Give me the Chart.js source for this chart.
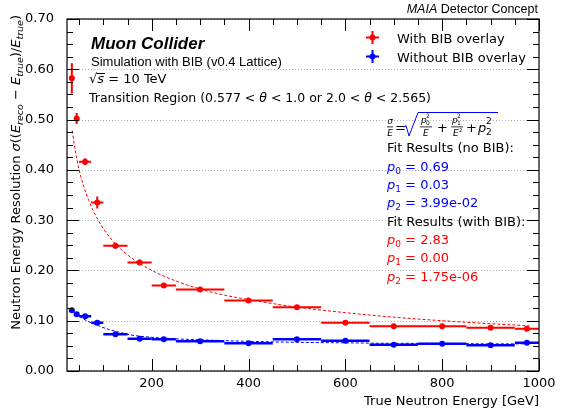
<!DOCTYPE html>
<html>
<head>
<meta charset="utf-8">
<script src="https://cdn.jsdelivr.net/npm/chart.js@4"></script>
<style>
  html, body { margin: 0; padding: 0; background: #fff; }
  #wrap { width: 562px; height: 413px; }
</style>
</head>
<body>
<div id="wrap"><canvas id="chart" width="562" height="413"></canvas></div>
<script>
// energy bins (GeV)
const binLo = [30, 40, 50, 75, 100, 150, 200, 250, 350, 450, 550, 650, 750, 850, 950];
const binHi = [40, 50, 75, 100, 150, 200, 250, 350, 450, 550, 650, 750, 850, 950, 1000];
const binCenter = [35, 45, 62.5, 87.5, 125, 175, 225, 300, 400, 500, 600, 700, 800, 900, 975];

// resolution with BIB overlay (red)
const withBib = [0.582, 0.502, 0.416, 0.335, 0.249, 0.216, 0.170, 0.162, 0.140, 0.127, 0.096, 0.089, 0.089, 0.086, 0.084];
const withBibErr = [0.030, 0.011, 0.007, 0.012, 0.006, 0.005, 0.004, 0.004, 0.004, 0.003, 0.003, 0.003, 0.003, 0.003, 0.003];

// resolution without BIB overlay (blue)
const noBib = [0.121, 0.113, 0.109, 0.096, 0.073, 0.064, 0.063, 0.059, 0.055, 0.063, 0.060, 0.052, 0.054, 0.051, 0.056];
const noBibErr = [0.004, 0.003, 0.003, 0.003, 0.003, 0.003, 0.003, 0.003, 0.003, 0.003, 0.003, 0.003, 0.003, 0.003, 0.003];

// fit curves
const fitWithX = [36, 40, 45, 50, 60, 70, 80, 90, 100, 125, 150, 175, 200, 250, 300, 350, 400, 500, 600, 700, 800, 900, 980];
const fitWithY = [0.478, 0.450, 0.423, 0.400, 0.366, 0.339, 0.317, 0.299, 0.283, 0.253, 0.231, 0.214, 0.200, 0.179, 0.163, 0.151, 0.142, 0.127, 0.116, 0.107, 0.100, 0.094, 0.090];
const fitNoX = [35, 45, 60, 75, 90, 110, 130, 155, 200, 250, 300, 400, 500, 600, 700, 800, 900, 980];
const fitNoY = [0.121, 0.112, 0.103, 0.096, 0.090, 0.083, 0.078, 0.072, 0.067, 0.064, 0.062, 0.059, 0.057, 0.056, 0.055, 0.055, 0.054, 0.054];

// axis ticks
const xTicks = [200, 400, 600, 800, 1000];
const yTicks = [0.0, 0.1, 0.2, 0.3, 0.4, 0.5, 0.6, 0.7];
const xMinorStep = 50;
const yMinorStep = 0.025;

const RED = '#ff0000';
const BLUE = '#0000ff';
const DJ = '"DejaVu Sans"';
const LIB = '"Liberation Sans"';

function pts(xs, ys) {
  return xs.map((x, i) => ({ x: x, y: ys[i] }));
}

// draw a run of text pieces: {t, it, b, size, dy, fam, c}
function rich(ctx, parts, x, y, color, measureOnly) {
  let cx = x;
  for (const p of parts) {
    const size = p.size || 13;
    ctx.font = (p.it ? 'italic ' : '') + (p.b ? 'bold ' : '') + size + 'px ' + (p.fam || DJ);
    const w = ctx.measureText(p.t).width;
    if (!measureOnly) {
      ctx.fillStyle = p.c || color;
      ctx.fillText(p.t, cx, y + (p.dy || 0));
    }
    cx += w + (p.gap || 0);
  }
  return cx - x;
}

function pLabel(ctx, idx, rest, x, y, color) {
  rich(ctx, [
    { t: 'p', it: true },
    { t: String(idx), size: 9, dy: 3 },
    { t: rest }
  ], x, y, color);
}

const decor = {
  id: 'decor',
  beforeDatasetsDraw(chart) {
    const { ctx, chartArea: a, scales: { x, y } } = chart;
    ctx.save();
    // dotted horizontal grid
    ctx.strokeStyle = '#b0b0b0';
    ctx.lineWidth = 1;
    ctx.setLineDash([1, 2]);
    yTicks.forEach(v => {
      const py = Math.round(y.getPixelForValue(v)) + 0.5;
      ctx.beginPath(); ctx.moveTo(a.left, py); ctx.lineTo(a.right, py); ctx.stroke();
    });
    ctx.setLineDash([]);

    // error bars
    const bars = (vals, errs, color, lw) => {
      ctx.strokeStyle = color;
      ctx.lineWidth = lw;
      vals.forEach((v, i) => {
        const py = y.getPixelForValue(v);
        const px = x.getPixelForValue(binCenter[i]);
        ctx.beginPath();
        ctx.moveTo(x.getPixelForValue(binLo[i]), py);
        ctx.lineTo(x.getPixelForValue(binHi[i]), py);
        ctx.moveTo(px, y.getPixelForValue(v - errs[i]));
        ctx.lineTo(px, y.getPixelForValue(v + errs[i]));
        ctx.stroke();
      });
    };
    bars(withBib, withBibErr, RED, 2);
    bars(noBib, noBibErr, BLUE, 2.5);
    ctx.restore();
  },
  afterDraw(chart) {
    const { ctx, chartArea: a, scales: { x, y } } = chart;
    ctx.save();
    // frame
    ctx.strokeStyle = '#000';
    ctx.lineWidth = 1.2;
    ctx.strokeRect(a.left, a.top, a.right - a.left, a.bottom - a.top);

    // inward ticks on all four sides
    ctx.lineWidth = 1;
    ctx.beginPath();
    for (let v = 0; v <= 0.7001; v += yMinorStep) {
      const major = yTicks.some(t => Math.abs(t - v) < 1e-6);
      const len = major ? 12 : 6;
      const py = Math.round(y.getPixelForValue(v)) + 0.5;
      ctx.moveTo(a.left, py); ctx.lineTo(a.left + len, py);
      ctx.moveTo(a.right, py); ctx.lineTo(a.right - len, py);
    }
    for (let v = xMinorStep; v <= 1000; v += xMinorStep) {
      const major = xTicks.includes(v);
      const len = major ? 12 : 6;
      const px = Math.round(x.getPixelForValue(v)) + 0.5;
      ctx.moveTo(px, a.bottom); ctx.lineTo(px, a.bottom - len);
      ctx.moveTo(px, a.top); ctx.lineTo(px, a.top + len);
    }
    ctx.stroke();

    ctx.textBaseline = 'alphabetic';
    ctx.textAlign = 'left';

    // header
    const head = [{ t: 'MAIA', it: true, fam: LIB, size: 12.5 }, { t: ' Detector Concept', fam: LIB, size: 12.5 }];
    const w1 = rich(ctx, head, 0, 0, '#000', true);
    rich(ctx, head, 538 - w1, 13, '#000');

    // experiment label
    rich(ctx, [{ t: 'Muon Collider', it: true, b: true, fam: LIB, size: 17 }], 91, 49, '#000');
    rich(ctx, [{ t: 'Simulation with BIB (v0.4 Lattice)', fam: LIB, size: 13 }], 91, 65.5, '#000');
    const sqW = rich(ctx, [{ t: '\u221A' }], 89, 83, '#000');
    const sW = rich(ctx, [{ t: 's', it: true }], 89 + sqW, 83, '#000');
    ctx.strokeStyle = '#000';
    ctx.lineWidth = 1;
    ctx.beginPath(); ctx.moveTo(89 + sqW - 1, 73.5); ctx.lineTo(89 + sqW + sW + 1, 73.5); ctx.stroke();
    rich(ctx, [{ t: ' = 10 TeV' }], 89 + sqW + sW, 83, '#000');
    rich(ctx, [
      { t: 'Transition Region (0.577', size: 12.5 },
      { t: ' < ', size: 12.5 },
      { t: '\u03B8', it: true, size: 12.5 },
      { t: ' < ', size: 12.5 },
      { t: '1.0 or 2.0', size: 12.5 },
      { t: ' < ', size: 12.5 },
      { t: '\u03B8', it: true, size: 12.5 },
      { t: ' < ', size: 12.5 },
      { t: '2.565)', size: 12.5 }
    ], 89, 102, '#000');

    // legend
    const legendItem = (cy, color, label) => {
      ctx.strokeStyle = color; ctx.fillStyle = color; ctx.lineWidth = 2;
      ctx.beginPath();
      ctx.moveTo(366, cy); ctx.lineTo(379, cy);
      ctx.moveTo(372.5, cy - 6.5); ctx.lineTo(372.5, cy + 6.5);
      ctx.stroke();
      ctx.beginPath(); ctx.arc(372.5, cy, 3, 0, Math.PI * 2); ctx.fill();
      rich(ctx, [{ t: label }], 397, cy + 5, '#000');
    };
    legendItem(37.5, RED, 'With BIB overlay');
    legendItem(56.5, BLUE, 'Without BIB overlay');

    // fit formula
    ctx.fillStyle = '#000';
    ctx.textAlign = 'center';
    ctx.font = 'italic 9px ' + DJ;
    ctx.fillText('\u03C3', 390, 124);
    ctx.fillText('E', 390, 136);
    ctx.fillRect(387, 126.5, 6, 0.8);
    ctx.textAlign = 'left';
    rich(ctx, [{ t: '=' }], 395, 132, '#000');
    ctx.lineWidth = 1;
    ctx.beginPath();
    ctx.moveTo(404, 127); ctx.lineTo(406, 125.5); ctx.lineTo(409, 136); ctx.lineTo(418, 112.5); ctx.lineTo(498, 112.5);
    ctx.stroke();
    rich(ctx, [{ t: 'p', it: true, size: 9 }], 421, 123, '#000');
    rich(ctx, [{ t: '0', size: 6 }], 426, 125, '#000');
    rich(ctx, [{ t: '2', size: 6 }], 426, 118, '#000');
    ctx.fillRect(420, 126.5, 12, 0.8);
    rich(ctx, [{ t: 'E', it: true, size: 9 }], 423, 136, '#000');
    rich(ctx, [{ t: '+' }], 437, 132, '#000');
    rich(ctx, [{ t: 'p', it: true, size: 9 }], 452, 123, '#000');
    rich(ctx, [{ t: '1', size: 6 }], 457, 125, '#000');
    rich(ctx, [{ t: '2', size: 6 }], 457, 118, '#000');
    ctx.fillRect(451, 126.5, 12, 0.8);
    rich(ctx, [{ t: 'E', it: true, size: 9 }], 453, 136, '#000');
    rich(ctx, [{ t: '2', size: 5 }], 459, 132, '#000');
    rich(ctx, [{ t: '+' }], 466, 132, '#000');
    rich(ctx, [{ t: 'p', it: true }], 478, 132, '#000');
    rich(ctx, [{ t: '2', size: 9 }], 486, 135, '#000');
    rich(ctx, [{ t: '2', size: 9 }], 486, 124, '#000');

    // fit results
    const lh = 18.33;
    const b0 = 152.3;
    rich(ctx, [{ t: 'Fit Results (no BIB):' }], 387, b0, '#000');
    pLabel(ctx, 0, ' = 0.69', 387, b0 + lh, BLUE);
    pLabel(ctx, 1, ' = 0.03', 387, b0 + 2 * lh, BLUE);
    pLabel(ctx, 2, ' = 3.99e-02', 387, b0 + 3 * lh, BLUE);
    rich(ctx, [{ t: 'Fit Results (with BIB):' }], 387, b0 + 4 * lh, '#000');
    pLabel(ctx, 0, ' = 2.83', 387, b0 + 5 * lh, RED);
    pLabel(ctx, 1, ' = 0.00', 387, b0 + 6 * lh, RED);
    pLabel(ctx, 2, ' = 1.75e-06', 387, b0 + 7 * lh, RED);

    // x title
    const xt = [{ t: 'True Neutron Energy [GeV]' }];
    const xw = rich(ctx, xt, 0, 0, '#000', true);
    rich(ctx, xt, a.right - xw, 405, '#000');

    // y title (rotated, aligned to top)
    const yt = [
      { t: 'Neutron Energy Resolution ' },
      { t: '\u03C3', it: true },
      { t: '((' },
      { t: 'E', it: true },
      { t: 'reco', it: true, size: 9.5, dy: 3 },
      { t: ' \u2212 ' },
      { t: 'E', it: true },
      { t: 'true', it: true, size: 9.5, dy: 3 },
      { t: ')/' },
      { t: 'E', it: true },
      { t: 'true', it: true, size: 9.5, dy: 3 },
      { t: ')' }
    ];
    const yw = rich(ctx, yt, 0, 0, '#000', true);
    ctx.translate(20, 15);
    ctx.rotate(-Math.PI / 2);
    rich(ctx, yt, -yw, 0, '#000');
    ctx.restore();
  }
};

new Chart(document.getElementById('chart').getContext('2d'), {
  type: 'scatter',
  data: {
    datasets: [
      {
        label: 'With BIB fit',
        data: pts(fitWithX, fitWithY),
        showLine: true,
        borderColor: RED,
        borderWidth: 1,
        borderDash: [3, 2],
        pointRadius: 0,
        cubicInterpolationMode: 'monotone'
      },
      {
        label: 'Without BIB fit',
        data: pts(fitNoX, fitNoY),
        showLine: true,
        borderColor: BLUE,
        borderWidth: 1,
        borderDash: [3, 2],
        pointRadius: 0,
        cubicInterpolationMode: 'monotone'
      },
      {
        label: 'With BIB overlay',
        data: pts(binCenter, withBib),
        backgroundColor: RED,
        borderColor: RED,
        pointRadius: 3,
        borderWidth: 0
      },
      {
        label: 'Without BIB overlay',
        data: pts(binCenter, noBib),
        backgroundColor: BLUE,
        borderColor: BLUE,
        pointRadius: 3,
        borderWidth: 0
      }
    ]
  },
  options: {
    responsive: false,
    animation: false,
    layout: { padding: { left: 0, top: 19, right: 23, bottom: 0 } },
    plugins: { legend: { display: false }, tooltip: { enabled: false } },
    scales: {
      x: {
        type: 'linear',
        min: 25,
        max: 1000,
        afterBuildTicks: s => { s.ticks = xTicks.map(v => ({ value: v })); },
        afterFit: s => { s.height = 42; },
        grid: { display: false },
        border: { display: false },
        ticks: {
          color: '#000',
          font: { family: 'DejaVu Sans', size: 13 },
          padding: -3,
          maxRotation: 0,
          autoSkip: false,
          callback: v => String(v)
        }
      },
      y: {
        min: 0,
        max: 0.7,
        afterBuildTicks: s => { s.ticks = yTicks.map(v => ({ value: v })); },
        afterFit: s => { s.width = 67; },
        grid: { display: false },
        border: { display: false },
        ticks: {
          color: '#000',
          font: { family: 'DejaVu Sans', size: 13 },
          padding: 5,
          callback: v => v.toFixed(2)
        }
      }
    }
  },
  plugins: [decor]
});
</script>
</body>
</html>
